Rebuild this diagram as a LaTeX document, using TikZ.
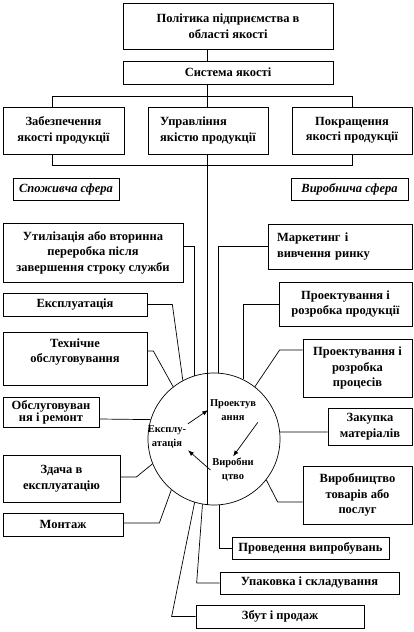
\documentclass[tikz,border=0pt]{standalone}
\usepackage{fontspec}
\setmainfont{Liberation Serif}
\usetikzlibrary{arrows.meta, positioning}

\tikzset{
  blok/.style={draw, inner sep=2pt, align=center,
    font=\bfseries\fontsize{12.5}{15.5}\selectfont},
  sfera/.style={blok, font=\bfseries\itshape\fontsize{12.5}{15.5}\selectfont},
  etap/.style={inner sep=1.5pt, align=center,
    font=\bfseries\fontsize{10.5}{14}\selectfont},
  strilka/.style={-{Latex[length=6pt,width=4.5pt]}}
}

\begin{document}
\begin{tikzpicture}[x=1pt, y=-1pt, line width=0.7pt]
  \useasboundingbox (0,0) rectangle (414,632);
  \coordinate (os) at (207,0);

  % Top of the hierarchy
  \node[blok, minimum width=210pt, minimum height=46pt] (polit) at (228,26)
       {Політика підприємства в\\області якості};
  \node[blok, minimum width=210pt, minimum height=23pt] (sist) at (228,72.5)
       {Система якості};
  \node[blok, minimum width=121pt, minimum height=47pt] (zab) at (63.5,130.5)
       {Забезпечення\\якості продукції};
  \node[blok, minimum width=120pt, minimum height=47pt, align=left] (upr) at (208,130.5)
       {Управління\\якістю продукції};
  \node[blok, minimum width=120pt, minimum height=47pt] (pokr) at (352,130.5)
       {Покращення\\якості продукції};

  % Spheres
  \node[sfera, minimum width=106pt, minimum height=22pt] (spoz) at (66,189) {Споживча сфера};
  \node[sfera, minimum width=117pt, minimum height=22pt] (vyrs) at (349.5,189) {Виробнича сфера};

  % Life cycle circle
  \node[draw, circle, minimum size=132pt, inner sep=0pt] (cikl) at (214,439) {};
  \node[etap] (proekt) at (233,410) {Проектув\\ання};
  \node[etap] (vyrb) at (233,470) {Виробни\\цтво};
  \node[etap] (ekspt) at (167,437) {Експлу-\\атація};
  \draw[strilka] (ekspt.north east) -- (proekt.west);
  \draw[strilka] (proekt.south east) -- (vyrb.north);
  \draw[strilka] (vyrb.west) -- (ekspt.south east);

  % Hierarchy lines
  \draw (polit.south -| os) -- (sist.north -| os);
  \draw (sist.south -| os) -- ++(0,12) coordinate (r1);
  \draw ([xshift=-11.5pt]zab.north) |- (r1) -| (pokr.north);
  \draw (r1) -- (upr.north -| os);
  \draw ([xshift=-11.5pt]zab.south) -- ++(0,11) -| (pokr.south);
  \draw (upr.south -| os) -- (os |- cikl.south);

  % Consumer side
  \node[blok, minimum width=180pt, minimum height=59pt] (util) at (93,252.5)
       {Утилізація або вторинна\\переробка після\\завершення строку служби};
  \node[blok, minimum width=144pt, minimum height=23pt] (ekspl) at (75,304.5) {Експлуатація};
  \node[blok, minimum width=144pt, minimum height=53pt] (tehn) at (75,358.5)
       {Технічне\\обслуговування\\\mbox{}};
  \node[blok, minimum width=96pt, minimum height=30pt, inner sep=1pt,
        font=\bfseries\fontsize{12.5}{12}\selectfont] (obsl) at (51,412)
       {Обслуговуван\\ня і ремонт};
  \node[blok, minimum width=117pt, minimum height=47pt] (zdac) at (61.5,478.5)
       {Здача в\\експлуатацію};
  \node[blok, minimum width=120pt, minimum height=23pt] (mont) at (63,524.5) {Монтаж};

  % Production side
  \node[blok, minimum width=144pt, minimum height=45pt, text width=126pt, align=left]
       (mark) at (340,246.5) {Маркетинг і\\вивчення ринку};
  \node[blok, minimum width=133pt, minimum height=44pt] (prprod) at (345.5,304)
       {Проектування і\\розробка продукції};
  \node[blok, minimum width=109pt, minimum height=58pt] (prproc) at (357.5,368)
       {Проектування і\\розробка\\процесів};
  \node[blok, minimum width=84pt, minimum height=37pt] (zak) at (370,426.5)
       {Закупка\\матеріалів};
  \node[blok, minimum width=109pt, minimum height=58pt] (vyrob) at (357.5,495)
       {Виробництво\\товарів або\\послуг};
  \node[blok, minimum width=157pt, minimum height=22pt] (prov) at (310.5,548)
       {Проведення випробувань};
  \node[blok, minimum width=179pt, minimum height=22pt] (upak) at (309.5,583)
       {Упаковка і складування};
  \node[blok, minimum width=168pt, minimum height=23pt] (zbut) at (280,616.5)
       {Збут і продаж};

  % Connectors to the circle
  \draw ([yshift=6.5pt]util.east) -| (cikl.107);
  \draw (ekspl.east) -- ++(25,0) -- (cikl.118);
  \draw ([yshift=7.5pt]tehn.east) -- ++(6,0) -- (cikl.128);
  \draw ([yshift=-7pt]obsl.east) -- (cikl.163);
  \draw ([yshift=1.5pt]zdac.east) -- ++(16,0) -- (cikl.202);
  \draw ([yshift=1.5pt]mont.east) -- ++(36,0) -- (cikl.230);
  \draw (zbut.west) -- ++(-24,0) -- (cikl.253);
  \draw (upak.west) -- ++(-23,0) -- (cikl.260);
  \draw (prov.west) -| (cikl.275);
  \draw (mark.west) -| (cikl.86);
  \draw (prprod.west) -| (cikl.64);
  \draw ([yshift=18pt]prproc.west) -- ++(-23,0) -- (cikl.52);
  \draw ([yshift=-5.5pt]zak.west) -- (cikl.6);
  \draw ([yshift=-7pt]vyrob.west) -- ++(-25,0) -- (cikl.322);
\end{tikzpicture}
\end{document}
